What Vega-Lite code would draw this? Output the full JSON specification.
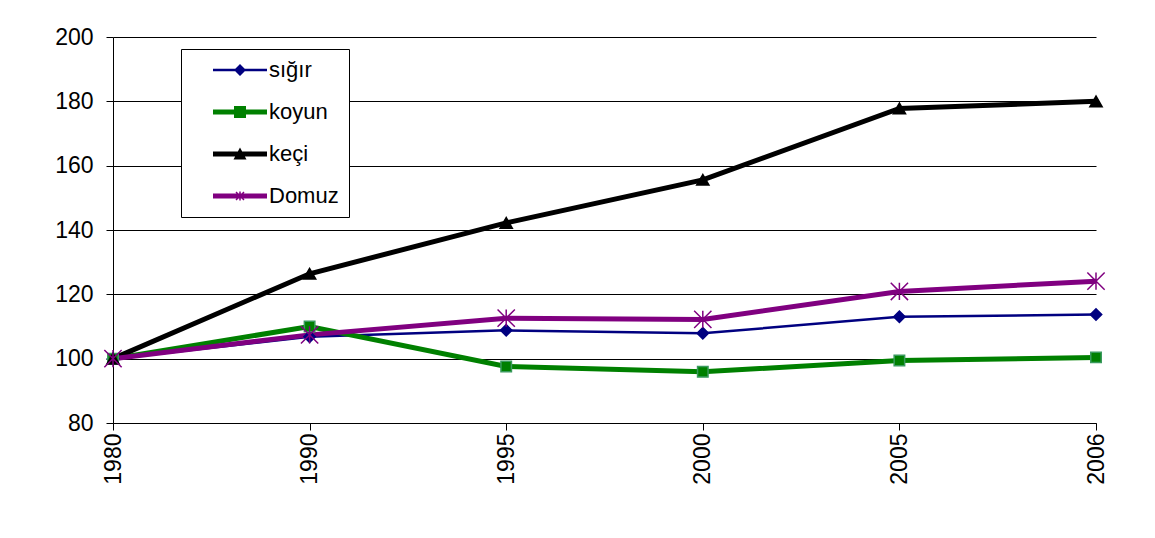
{
  "$schema": "https://vega.github.io/schema/vega-lite/v6.json",
  "width": 983,
  "height": 386,
  "autosize": "none",
  "padding": {"left": 113, "top": 37, "right": 59, "bottom": 115},
  "background": "white",
  "config": {
    "font": "Liberation Sans",
    "view": {"stroke": null},
    "axis": {
      "labelFont": "Liberation Sans",
      "labelFontSize": 23,
      "labelColor": "black",
      "domainColor": "black",
      "tickColor": "black",
      "tickSize": 7,
      "title": null
    }
  },
  "data": {
    "values": [
      {"series": "sığır", "year": "1980", "value": 100},
      {"series": "sığır", "year": "1990", "value": 106.8},
      {"series": "sığır", "year": "1995", "value": 108.8},
      {"series": "sığır", "year": "2000", "value": 107.9},
      {"series": "sığır", "year": "2005", "value": 113},
      {"series": "sığır", "year": "2006", "value": 113.7},
      {"series": "koyun", "year": "1980", "value": 100},
      {"series": "koyun", "year": "1990", "value": 110},
      {"series": "koyun", "year": "1995", "value": 97.6},
      {"series": "koyun", "year": "2000", "value": 95.9},
      {"series": "koyun", "year": "2005", "value": 99.4},
      {"series": "koyun", "year": "2006", "value": 100.4},
      {"series": "keçi", "year": "1980", "value": 100},
      {"series": "keçi", "year": "1990", "value": 126.4},
      {"series": "keçi", "year": "1995", "value": 142.2},
      {"series": "keçi", "year": "2000", "value": 155.6},
      {"series": "keçi", "year": "2005", "value": 177.8},
      {"series": "keçi", "year": "2006", "value": 180},
      {"series": "Domuz", "year": "1980", "value": 100},
      {"series": "Domuz", "year": "1990", "value": 107.4},
      {"series": "Domuz", "year": "1995", "value": 112.6},
      {"series": "Domuz", "year": "2000", "value": 112.2},
      {"series": "Domuz", "year": "2005", "value": 120.9},
      {"series": "Domuz", "year": "2006", "value": 124.1}
    ]
  },
  "encoding": {
    "x": {
      "field": "year",
      "type": "ordinal",
      "sort": ["1980", "1990", "1995", "2000", "2005", "2006"],
      "scale": {"type": "point", "padding": 0},
      "axis": {"labelAngle": -90, "labelPadding": 3, "grid": false, "labelOverlap": false}
    },
    "y": {
      "field": "value",
      "type": "quantitative",
      "scale": {"domain": [80, 200], "nice": false, "zero": false},
      "axis": {
        "values": [80, 100, 120, 140, 160, 180, 200],
        "grid": true,
        "gridColor": "black",
        "gridWidth": 1,
        "labelPadding": 13
      }
    }
  },
  "layer": [
    {
      "mark": {"type": "line"},
      "encoding": {
        "color": {
          "field": "series",
          "type": "nominal",
          "scale": {"domain": ["sığır", "koyun", "keçi", "Domuz"], "range": ["#000080", "#008000", "#000000", "#800080"]},
          "legend": {
            "orient": "none",
            "legendX": 68,
            "legendY": 12,
            "title": null,
            "padding": 10,
            "strokeColor": "black",
            "fillColor": "white",
            "labelFont": "Liberation Sans",
            "labelFontSize": 22,
            "labelColor": "black",
            "rowPadding": 20,
            "symbolSize": 100,
            "labelOffset": 56,
            "symbolOpacity": 1,
            "symbolStrokeWidth": 0,
            "symbolFillColor": {"expr": "scale('color', datum.value)"},
            "symbolType": {"expr": "datum.value === 'sığır' ? 'M2.2,-0.25H13V0.25H2.2ZM7.6,-1.2L8.8,0L7.6,1.2L6.4,0Z' : datum.value === 'koyun' ? 'M2.2,-0.5H13V0.5H2.2ZM6.4,-1.2H8.8V1.2H6.4Z' : datum.value === 'keçi' ? 'M2.2,-0.5H13V0.5H2.2ZM7.6,-1.3L8.9,1.1H6.3Z' : 'M2.2,-0.5H13V0.5H2.2ZM7.45,-0.9H7.75V0.9H7.45ZM6.7,-0.7L6.9,-0.9L8.5,0.7L8.3,0.9ZM6.9,0.9L6.7,0.7L8.3,-0.9L8.5,-0.7Z'"}
          }
        },
        "strokeWidth": {
          "condition": {"test": "datum.series === 'sığır'", "value": 2.5},
          "value": 5
        }
      }
    },
    {
      "mark": {"type": "point", "filled": true, "opacity": 1, "strokeWidth": 1.5},
      "encoding": {
        "color": {
          "condition": [
            {"test": "datum.series === 'sığır'", "value": "#000080"},
            {"test": "datum.series === 'koyun'", "value": "#008000"},
            {"test": "datum.series === 'keçi'", "value": "#000000"}
          ],
          "value": "#800080"
        },
        "stroke": {
          "condition": [
            {"test": "datum.series === 'sığır'", "value": "#000080"},
            {"test": "datum.series === 'koyun'", "value": "#3a9a5e"},
            {"test": "datum.series === 'keçi'", "value": "#000000"}
          ],
          "value": "#800080"
        },
        "shape": {
          "condition": [
            {"test": "datum.series === 'sığır'", "value": "diamond"},
            {"test": "datum.series === 'koyun'", "value": "square"},
            {"test": "datum.series === 'keçi'", "value": "triangle-up"}
          ],
          "value": "M-1,-1L1,1M-1,1L1,-1M0,-1L0,1"
        },
        "size": {
          "condition": [
            {"test": "datum.series === 'sığır'", "value": 130},
            {"test": "datum.series === 'koyun'", "value": 110},
            {"test": "datum.series === 'keçi'", "value": 150}
          ],
          "value": 300
        }
      }
    }
  ]
}
